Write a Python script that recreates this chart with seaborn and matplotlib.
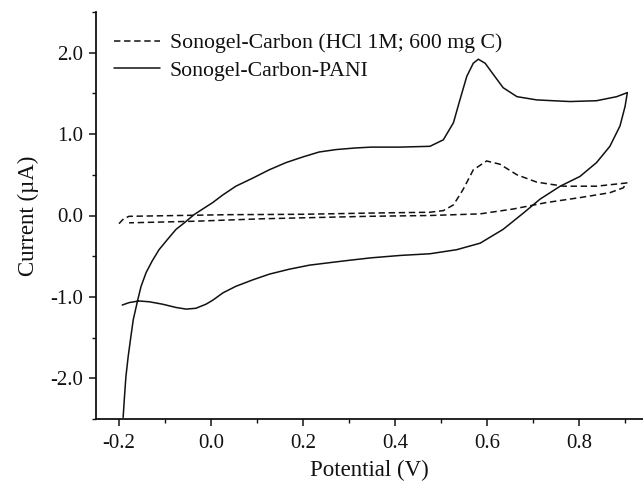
import matplotlib
matplotlib.use("Agg")
import matplotlib.pyplot as plt
import seaborn as sns
import pandas as pd
from matplotlib.ticker import MultipleLocator, FormatStrFormatter

# ---- data ----
sc_label = "Sonogel-Carbon (HCl 1M; 600 mg C)"
sc_E = [-0.2, -0.19, -0.178, 0.039, 0.2, 0.348, 0.476, 0.505, 0.527, 0.548, 0.570,
        0.599, 0.628, 0.665, 0.708, 0.766, 0.838, 0.904, 0.896, 0.867, 0.802, 0.730,
        0.657, 0.585, 0.476, 0.341, 0.113, -0.033, -0.178]
sc_I = [-0.10, -0.04, -0.01, 0.01, 0.015, 0.03, 0.04, 0.06, 0.13, 0.32, 0.56,
        0.67, 0.63, 0.50, 0.41, 0.36, 0.36, 0.40, 0.34, 0.28, 0.22, 0.16,
        0.08, 0.02, 0.0, -0.01, -0.04, -0.07, -0.09]

pani_label = "Sonogel-Carbon-PANI"
pani_E = [-0.191, -0.188, -0.185, -0.180, -0.174, -0.169, -0.159, -0.152, -0.141, -0.128,
          -0.113, -0.094, -0.076, -0.058, -0.037, -0.018, 0.004, 0.025, 0.054, 0.091,
          0.126, 0.163, 0.2, 0.235, 0.272, 0.315, 0.348, 0.41, 0.476, 0.505, 0.527,
          0.541, 0.556, 0.570, 0.581, 0.596, 0.614, 0.635, 0.665, 0.708, 0.780, 0.838,
          0.882, 0.905, 0.900, 0.889, 0.867, 0.838, 0.802, 0.759, 0.715, 0.679, 0.635,
          0.585, 0.534, 0.476, 0.413, 0.348, 0.301, 0.257, 0.214, 0.17, 0.127, 0.091,
          0.054, 0.026, 0.004, -0.011, -0.033, -0.054, -0.076, -0.105, -0.134, -0.157,
          -0.178, -0.193]
pani_I = [-2.48, -2.22, -1.98, -1.73, -1.48, -1.28, -1.03, -0.87, -0.70, -0.56,
          -0.42, -0.29, -0.17, -0.09, 0.01, 0.08, 0.16, 0.25, 0.36, 0.46,
          0.56, 0.65, 0.72, 0.78, 0.81, 0.83, 0.84, 0.84, 0.85, 0.93, 1.14,
          1.42, 1.71, 1.87, 1.92, 1.87, 1.73, 1.57, 1.46, 1.42, 1.40, 1.41,
          1.46, 1.51, 1.34, 1.10, 0.85, 0.65, 0.48, 0.36, 0.20, 0.03, -0.17,
          -0.34, -0.42, -0.47, -0.49, -0.52, -0.55, -0.58, -0.61, -0.66, -0.72, -0.79,
          -0.87, -0.95, -1.04, -1.09, -1.14, -1.15, -1.13, -1.09, -1.06, -1.05,
          -1.07, -1.10]

x_ticks = [-0.2, 0.0, 0.2, 0.4, 0.6, 0.8]
y_ticks = [-2.0, -1.0, 0.0, 1.0, 2.0]

# ---- style ----
sns.set_style("ticks")
plt.rcParams["font.family"] = ["Liberation Serif", "DejaVu Serif"]
plt.rcParams["axes.unicode_minus"] = False

fig = plt.figure(figsize=(6.43, 4.92), dpi=100)
ax = fig.add_axes([96 / 643, (492 - 419) / 492, (643 - 96) / 643, (419 - 12) / 492])

df_sc = pd.DataFrame({"E": sc_E, "I": sc_I})
df_pani = pd.DataFrame({"E": pani_E, "I": pani_I})

sns.lineplot(data=df_sc, x="E", y="I", sort=False, estimator=None, ax=ax,
             color="#111111", linewidth=1.1, linestyle=(0, (4.2, 2.4)), label=sc_label)
sns.lineplot(data=df_pani, x="E", y="I", sort=False, estimator=None, ax=ax,
             color="#111111", linewidth=1.1, label=pani_label)

ax.set_xlim(-0.25, 0.939)
ax.set_ylim(-2.5, 2.5)
ax.set_xticks(x_ticks)
ax.set_yticks(y_ticks)
ax.xaxis.set_minor_locator(MultipleLocator(0.1))
ax.yaxis.set_minor_locator(MultipleLocator(0.5))
ax.xaxis.set_major_formatter(FormatStrFormatter("%.1f"))
ax.yaxis.set_major_formatter(FormatStrFormatter("%.1f"))

for s in ["top", "right"]:
    ax.spines[s].set_visible(False)
for s in ["left", "bottom"]:
    ax.spines[s].set_linewidth(1.3)
    ax.spines[s].set_color("#111111")

ax.tick_params(which="major", direction="out", length=5, width=1.1, colors="#111111",
               labelsize=15, pad=4)
ax.tick_params(which="minor", direction="out", length=3, width=1.0, colors="#111111")
ax.tick_params(axis="x", which="major", pad=6)

ax.set_xlabel("Potential (V)", fontsize=16.5, va="center", color="#111111")
ax.set_ylabel("Current (µA)", fontsize=16.5, va="center", color="#111111")
ax.xaxis.set_label_coords(0.5, (419 - 470) / 407)
ax.yaxis.set_label_coords((28 - 96) / 547, 0.5)

leg = ax.legend(loc="upper left", bbox_to_anchor=((114 - 96) / 547, (419 - 33) / 407),
                frameon=False, fontsize=15.7, handlelength=2.1, handletextpad=0.45,
                labelspacing=0.33, borderpad=0, borderaxespad=0)
for t in leg.get_texts():
    t.set_color("#111111")

fig.savefig("out.png", dpi=100)
